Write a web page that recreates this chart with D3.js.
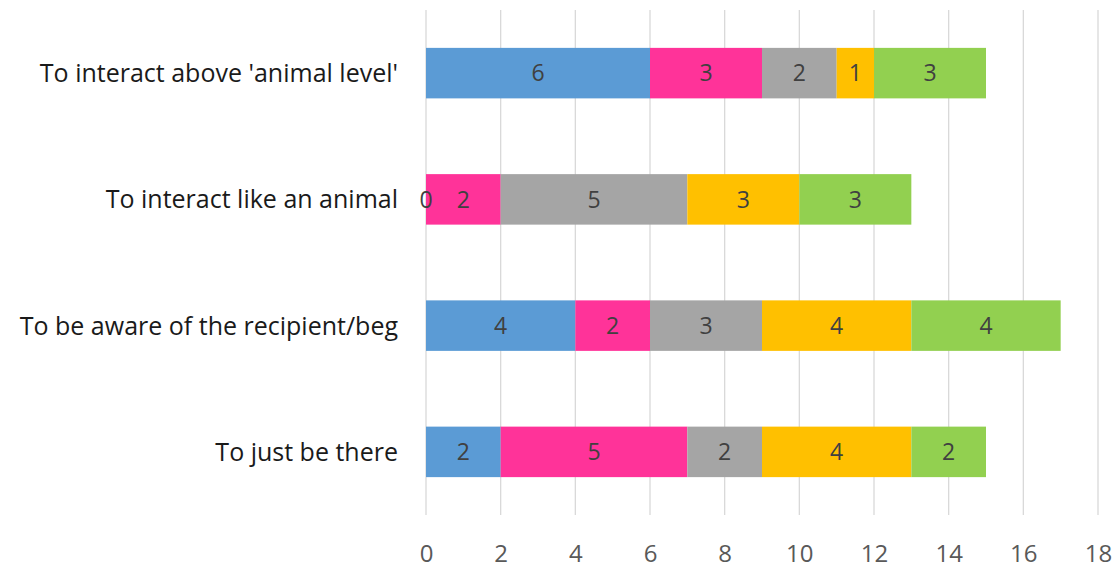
<!DOCTYPE html>
<html><head><meta charset="utf-8">
<script src="https://cdn.jsdelivr.net/npm/d3@7"></script>
<style>body{margin:0;background:#fff;} svg{display:block;}</style>
</head><body>
<script>
const categories = ["To interact above 'animal level'", "To interact like an animal", "To be aware of the recipient/beg", "To just be there"];
const seriesNames = ["S1", "S2", "S3", "S4", "S5"];
const s1 = [6, 0, 4, 2];
const s2 = [3, 2, 2, 5];
const s3 = [2, 5, 3, 2];
const s4 = [1, 3, 4, 4];
const s5 = [3, 3, 4, 2];
const colors = ["#5B9BD5", "#FF3399", "#A5A5A5", "#FFC000", "#92D050"];
const xTicks = [0, 2, 4, 6, 8, 10, 12, 14, 16, 18];

const W = 1119, H = 568;
const m = {left: 426, right: 21, top: 10, bottom: 53};
const svg = d3.select("body").append("svg").attr("width", W).attr("height", H);
const font = "'Open Sans', 'Liberation Sans', sans-serif";

const x = d3.scaleLinear().domain([0, 18]).range([m.left, W - m.right]);
const y = d3.scaleBand().domain(categories).range([m.top, H - m.bottom]).paddingInner(0.6).paddingOuter(0.3);

svg.append("g").selectAll("line").data(xTicks).join("line")
  .attr("x1", d => x(d)).attr("x2", d => x(d))
  .attr("y1", m.top).attr("y2", H - m.bottom)
  .attr("stroke", "#d9d9d9").attr("stroke-width", 1.3);

const rows = categories.map((c, i) => ({cat: c, S1: s1[i], S2: s2[i], S3: s3[i], S4: s4[i], S5: s5[i]}));
const stack = d3.stack().keys(seriesNames)(rows);

const g = svg.append("g").selectAll("g").data(stack).join("g").attr("fill", (d, i) => colors[i]);
g.selectAll("rect").data(d => d).join("rect")
  .attr("x", d => x(d[0])).attr("width", d => x(d[1]) - x(d[0]))
  .attr("y", d => y(d.data.cat)).attr("height", y.bandwidth());

svg.append("g").selectAll("g").data(stack).join("g").selectAll("text").data(d => d.map(v => ({v: v, key: d.key}))).join("text")
  .attr("x", d => (x(d.v[0]) + x(d.v[1])) / 2)
  .attr("y", d => y(d.v.data.cat) + y.bandwidth() / 2)
  .attr("dy", "0.36em").attr("text-anchor", "middle")
  .attr("font-family", font).attr("font-size", 23).attr("fill", "#404040")
  .text(d => d.v.data[d.key]);

const xAxis = d3.axisBottom(x).tickValues(xTicks).tickSize(0).tickPadding(0);
const xa = svg.append("g").attr("transform", `translate(0,${H - m.bottom + 38})`).call(xAxis);
xa.select(".domain").remove();
xa.selectAll("text").attr("font-family", font).attr("font-size", 24).attr("fill", "#595959").attr("dy", "0.36em");

const yAxis = d3.axisLeft(y).tickSize(0).tickPadding(28);
const ya = svg.append("g").attr("transform", `translate(${m.left},0)`).call(yAxis);
ya.select(".domain").remove();
ya.selectAll("text").attr("font-family", font).attr("font-size", 25).attr("fill", "#1a1a1a").attr("dy", "0.36em");
</script>
</body></html>
